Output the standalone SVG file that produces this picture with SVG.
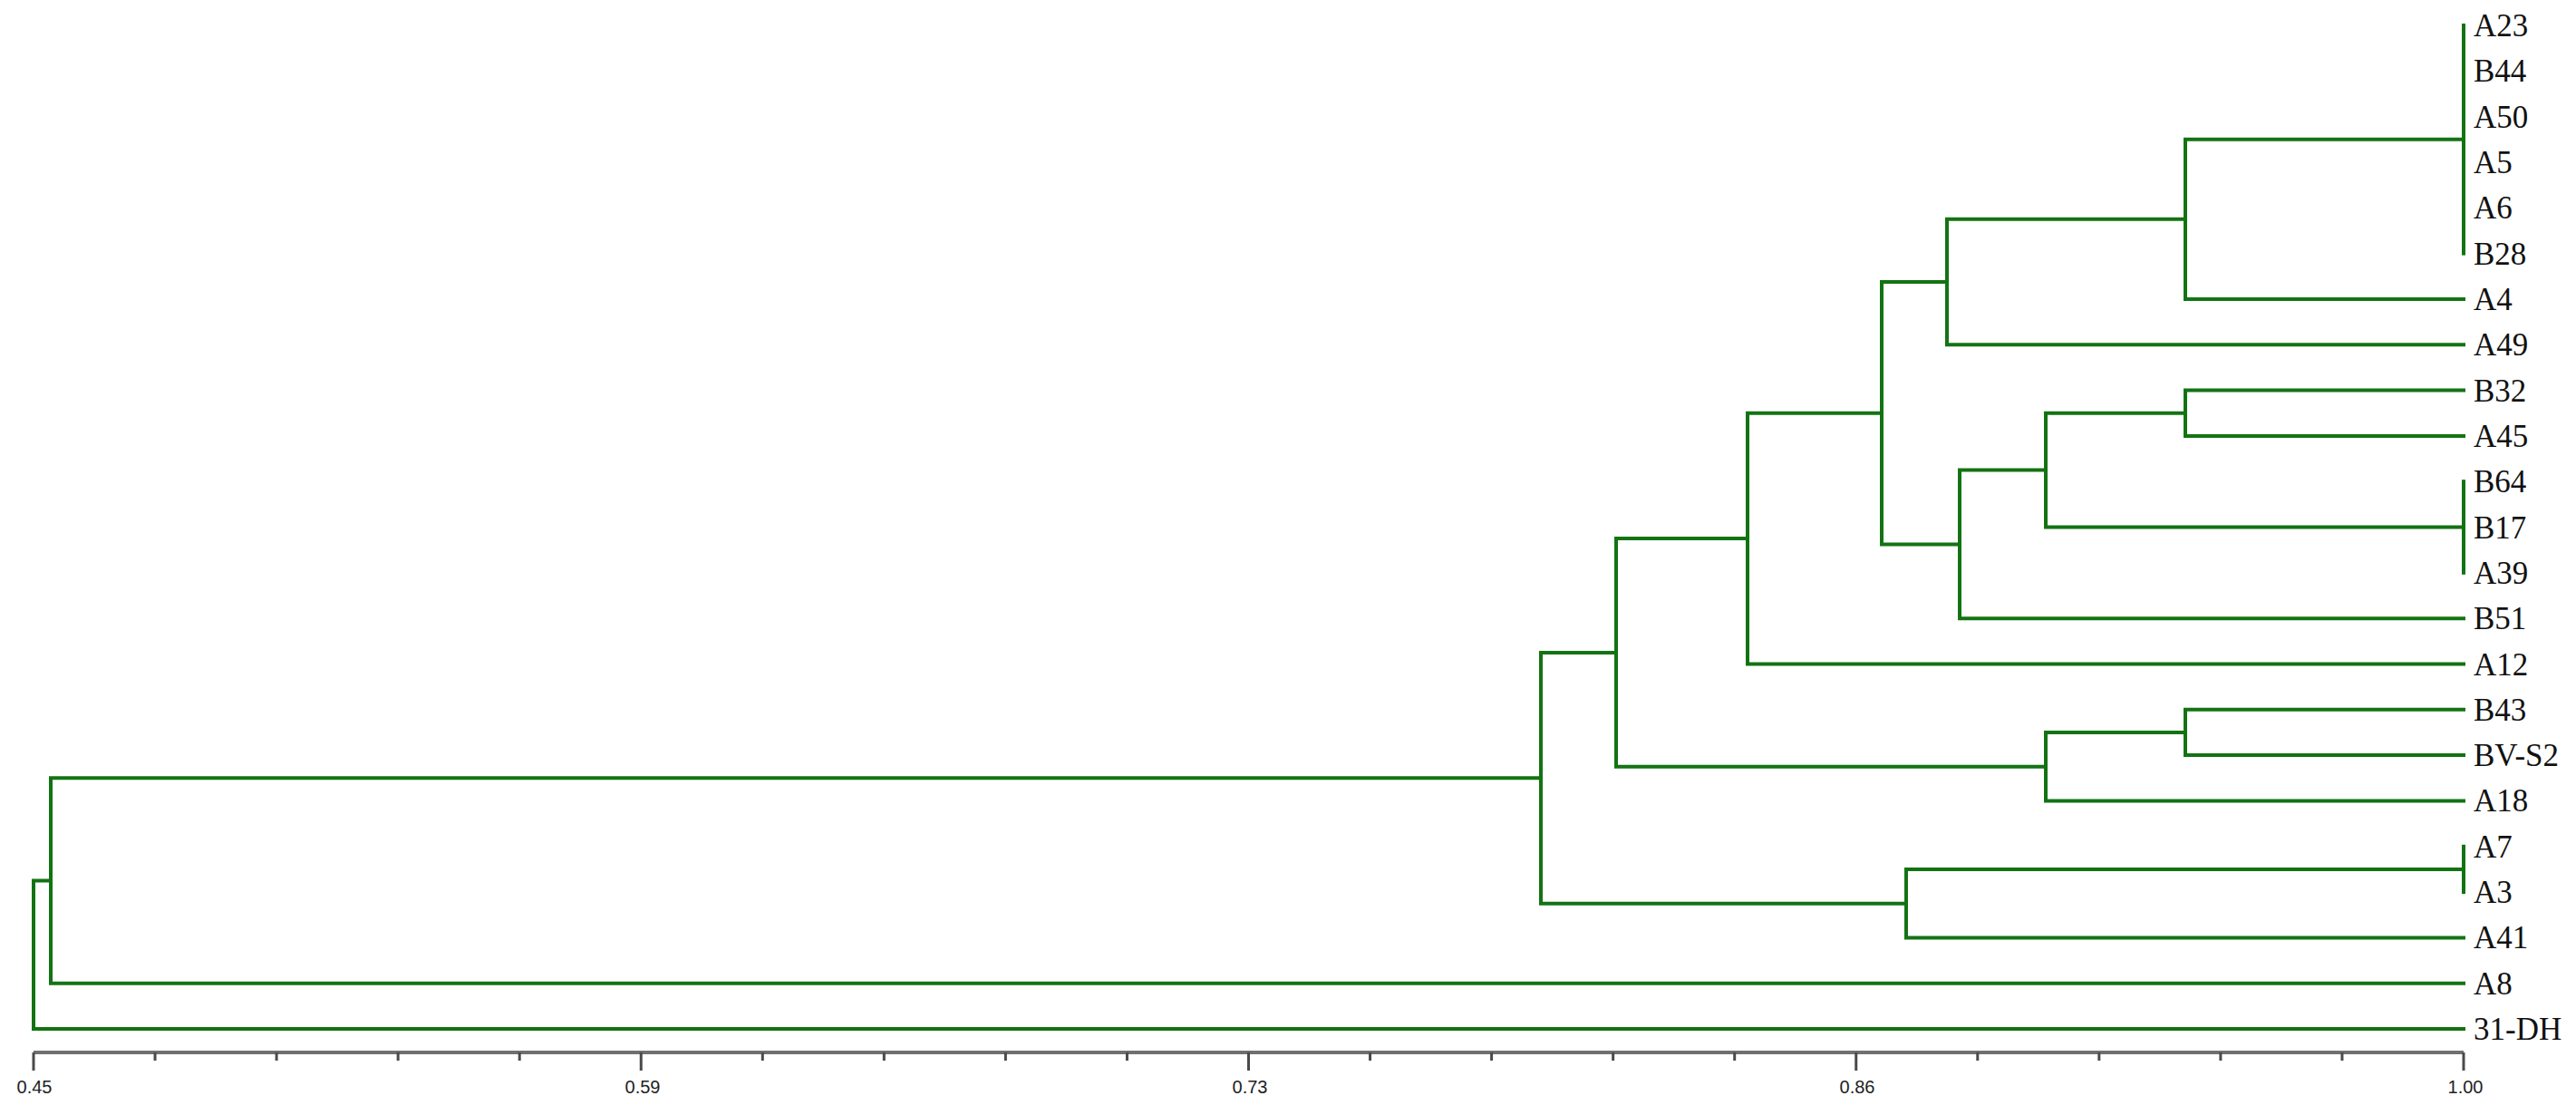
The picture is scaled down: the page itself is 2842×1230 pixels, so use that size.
<svg xmlns="http://www.w3.org/2000/svg" width="2842" height="1230" viewBox="0 0 2842 1230">
<style>
.br{fill:none;stroke:#137313;stroke-width:4;stroke-linejoin:miter;stroke-linecap:square}
.lbl{font-family:"Liberation Serif","Times New Roman",serif;font-size:35px;fill:#111}
.ax{fill:none;stroke:#707070;stroke-width:4}
.tk{fill:none;stroke:#4a4a4a;stroke-width:3}
.axl{font-family:"Liberation Sans",Arial,sans-serif;font-size:20px;fill:#222;text-anchor:middle}
</style>
<rect width="2842" height="1230" fill="#fff"/>
<g id="connectors">
<path class="br" d="M2718 28V279.6"/>
<path class="br" d="M2718 531.2V631.8"/>
<path class="br" d="M2718 933.8V984.1"/>
<path class="br" d="M2718 153.8H2411V329.9H2718"/>
<path class="br" d="M2411 241.85H2148V380.2H2718"/>
<path class="br" d="M2718 430.6H2411V480.9H2718"/>
<path class="br" d="M2411 455.75H2257V581.5H2718"/>
<path class="br" d="M2257 518.6H2162V682.2H2718"/>
<path class="br" d="M2148 311H2076V600.4H2162"/>
<path class="br" d="M2076 455.7H1928V732.5H2718"/>
<path class="br" d="M2718 782.8H2411V833.1H2718"/>
<path class="br" d="M2411 807.95H2257V883.4H2718"/>
<path class="br" d="M1928 594.1H1783V845.7H2257"/>
<path class="br" d="M2718 958.95H2103V1034.4H2718"/>
<path class="br" d="M1783 719.9H1700V996.7H2103"/>
<path class="br" d="M1700 858.3H56V1084.7H2718"/>
<path class="br" d="M56 971.5H37V1135H2718"/>
</g>
<g id="leaves">
<g id="n-A23"><text class="lbl" x="2729" y="40">A23</text></g>
<g id="n-B44"><text class="lbl" x="2729" y="90.3">B44</text></g>
<g id="n-A50"><text class="lbl" x="2729" y="140.6">A50</text></g>
<g id="n-A5"><text class="lbl" x="2729" y="191">A5</text></g>
<g id="n-A6"><text class="lbl" x="2729" y="241.3">A6</text></g>
<g id="n-B28"><text class="lbl" x="2729" y="291.6">B28</text></g>
<g id="n-A4"><text class="lbl" x="2729" y="341.9">A4</text></g>
<g id="n-A49"><text class="lbl" x="2729" y="392.2">A49</text></g>
<g id="n-B32"><text class="lbl" x="2729" y="442.6">B32</text></g>
<g id="n-A45"><text class="lbl" x="2729" y="492.9">A45</text></g>
<g id="n-B64"><text class="lbl" x="2729" y="543.2">B64</text></g>
<g id="n-B17"><text class="lbl" x="2729" y="593.5">B17</text></g>
<g id="n-A39"><text class="lbl" x="2729" y="643.8">A39</text></g>
<g id="n-B51"><text class="lbl" x="2729" y="694.2">B51</text></g>
<g id="n-A12"><text class="lbl" x="2729" y="744.5">A12</text></g>
<g id="n-B43"><text class="lbl" x="2729" y="794.8">B43</text></g>
<g id="n-BV-S2"><text class="lbl" x="2729" y="845.1">BV-S2</text></g>
<g id="n-A18"><text class="lbl" x="2729" y="895.4">A18</text></g>
<g id="n-A7"><text class="lbl" x="2729" y="945.8">A7</text></g>
<g id="n-A3"><text class="lbl" x="2729" y="996.1">A3</text></g>
<g id="n-A41"><text class="lbl" x="2729" y="1046.4">A41</text></g>
<g id="n-A8"><text class="lbl" x="2729" y="1096.7">A8</text></g>
<g id="n-31-DH"><text class="lbl" x="2729" y="1147">31-DH</text></g>
</g>
<g id="axis">
<path class="ax" d="M37 1161H2718"/>
<path class="tk" d="M37 1161V1181M707.25 1161V1181M1377.5 1161V1181M2047.75 1161V1181M2718 1161V1181"/>
<path class="tk" d="M171.05 1161V1170M305.1 1161V1170M439.15 1161V1170M573.2 1161V1170M841.3 1161V1170M975.35 1161V1170M1109.4 1161V1170M1243.45 1161V1170M1511.55 1161V1170M1645.6 1161V1170M1779.65 1161V1170M1913.7 1161V1170M2181.8 1161V1170M2315.85 1161V1170M2449.9 1161V1170M2583.95 1161V1170"/>
<text class="axl" x="38" y="1206">0.45</text>
<text class="axl" x="709" y="1206">0.59</text>
<text class="axl" x="1379" y="1206">0.73</text>
<text class="axl" x="2049" y="1206">0.86</text>
<text class="axl" x="2720" y="1206">1.00</text>
</g>
</svg>
